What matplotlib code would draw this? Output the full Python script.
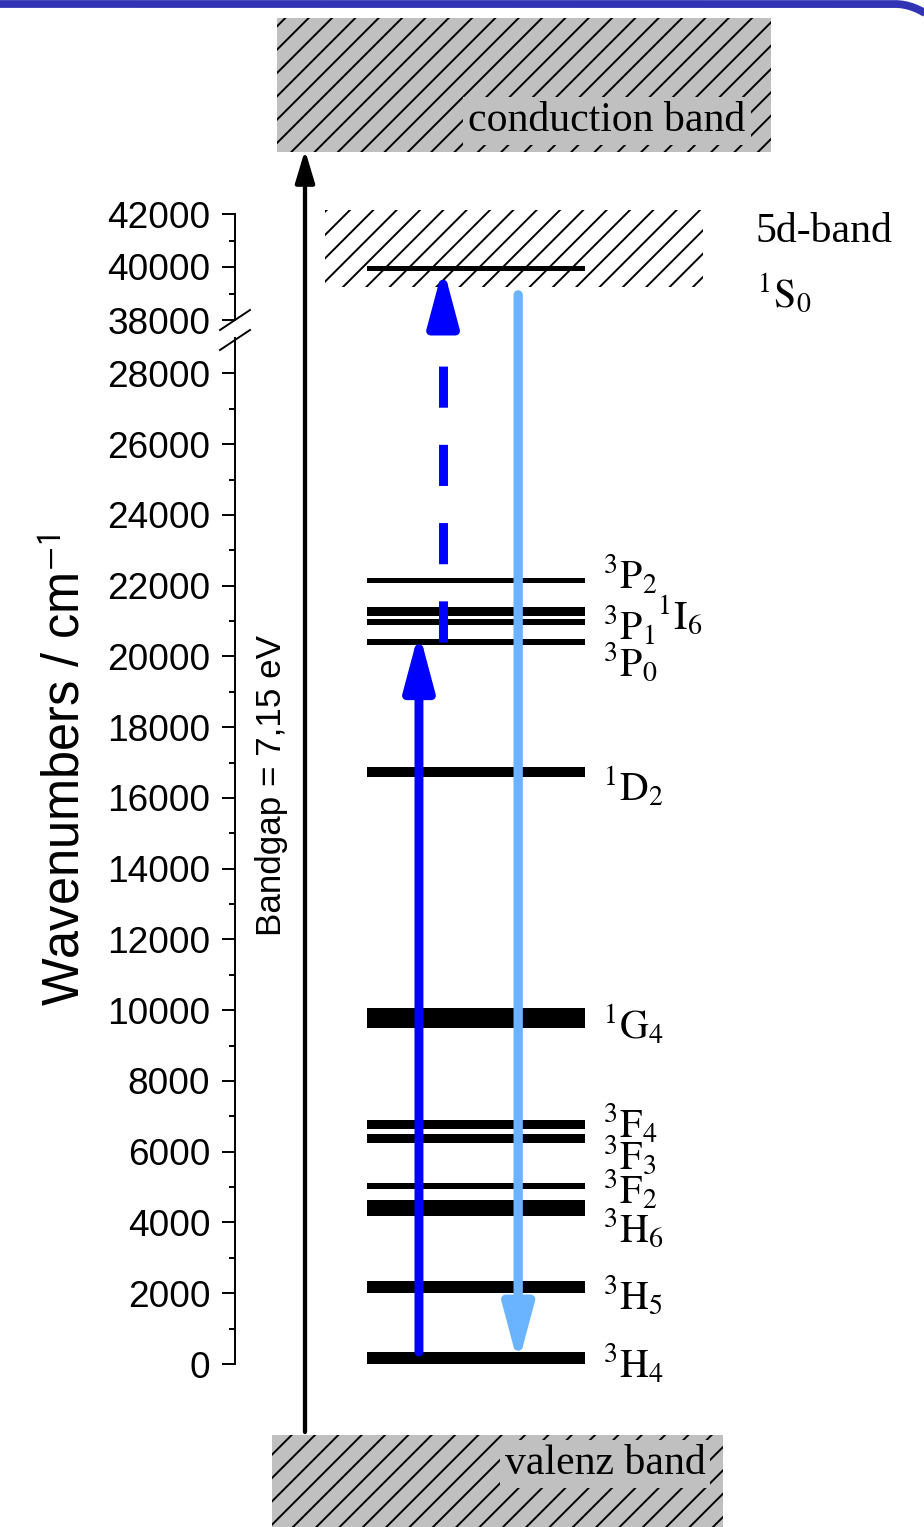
import numpy as np
import matplotlib
matplotlib.use("Agg")
import matplotlib.pyplot as plt
from matplotlib.patches import Rectangle, ConnectionPatch, FancyArrowPatch
from matplotlib.lines import Line2D

plt.rcParams['font.family'] = ['Liberation Sans', 'DejaVu Sans']
plt.rcParams['mathtext.fontset'] = 'stix'
plt.rcParams['hatch.linewidth'] = 1.0

# Energieniveaus (cm^-1), Mitte und Breite der Balken
term_labels = [r'$^{3}\mathrm{H}_{4}$', r'$^{3}\mathrm{H}_{5}$', r'$^{3}\mathrm{H}_{6}$',
               r'$^{3}\mathrm{F}_{2}$', r'$^{3}\mathrm{F}_{3}$', r'$^{3}\mathrm{F}_{4}$',
               r'$^{1}\mathrm{G}_{4}$', r'$^{1}\mathrm{D}_{2}$', r'$^{3}\mathrm{P}_{0}$',
               r'$^{3}\mathrm{P}_{1}$', r'$^{1}\mathrm{I}_{6}$', r'$^{3}\mathrm{P}_{2}$']
energies = [155, 2176, 4409, 5031, 6374, 6783, 9779, 16733, 20407, 20972, 21269, 22145]
spreads = [367, 340, 450, 170, 255, 255, 565, 283, 170, 170, 255, 140]
# Lage der Beschriftungen (auseinandergezogen)
label_y = [0, 1950, 3844, 4918, 5907, 6783, 9582, 16309, 19842, 20859, 21150, 22301]

s0_label = r'$^{1}\mathrm{S}_{0}$'
s0_energy = 39943
s0_spread = 190
band_5d = [39245, 42150]

# Uebergaenge
exc_start = energies[0] + spreads[0] / 2
exc_end = 20700
esa_dash_end = 28236
esa_head_start = 29300
esa_end = 40000
emi_start = 38950
emi_end = 0

lower_ticks = list(range(0, 28001, 2000))
upper_ticks = [38000, 40000, 42000]

W, H = 924, 1527
DPI = 140
fig = plt.figure(figsize=(W / DPI, H / DPI), dpi=DPI)


def fx(px):
    return px / W


def fy(py):
    return (H - py) / H


ax_lo = fig.add_axes([fx(235), fy(1364), 689 / W, 1026 / H])
ax_hi = fig.add_axes([fx(235), fy(320), 689 / W, 106 / H])
for ax in (ax_lo, ax_hi):
    ax.set_facecolor('none')
    for s in ('top', 'right', 'bottom'):
        ax.spines[s].set_visible(False)
    ax.spines['left'].set_linewidth(1.0)
    ax.set_xlim(0, 1)
    ax.set_xticks([])
    ax.tick_params(axis='y', which='major', length=6.7, width=1.0, labelsize=19, pad=6)
    ax.tick_params(axis='y', which='minor', length=3.1, width=1.0)

ax_lo.set_ylim(0, 29000)
ax_lo.set_yticks(lower_ticks)
ax_lo.set_yticks(range(1000, 28000, 2000), minor=True)
ax_hi.set_ylim(38000, 42000)
ax_hi.set_yticks(upper_ticks)
ax_hi.set_yticks([39000, 41000], minor=True)

lev_x0, lev_x1 = 0.1916, 0.508
lab_x = [0.534] * len(term_labels)
lab_x[10] = 0.612

# Niveaus
ax_lo.barh(energies, lev_x1 - lev_x0, height=spreads, left=lev_x0, color='black', zorder=2)
for lab, ly, lx in zip(term_labels, label_y, lab_x):
    ax_lo.text(lx, ly, lab, fontsize=20.5, va='center', ha='left', clip_on=False)

# 5d-Band und 1S0
ax_hi.add_patch(Rectangle((0.1306, band_5d[0]), 0.679 - 0.1306, band_5d[1] - band_5d[0],
                          fill=False, hatch='//', edgecolor='black', lw=0, clip_on=False))
ax_hi.barh([s0_energy], lev_x1 - lev_x0, height=s0_spread, left=lev_x0, color='black',
           zorder=2, clip_on=False)
ax_hi.text(0.755, 41321, '5d-band', fontsize=21.5, family='Liberation Serif',
           va='center', ha='left', clip_on=False)
ax_hi.text(0.757, 39019, s0_label, fontsize=20.5, va='center', ha='left', clip_on=False)

# Anregung (dunkelblau)
dark = '#0000ff'
light = '#6ab4ff'
head = '-|>,head_length=2.4,head_width=0.64'
ax_lo.annotate('', xy=(0.267, exc_end), xytext=(0.267, exc_start),
               arrowprops=dict(arrowstyle=head, lw=4.6, color=dark, shrinkA=0, shrinkB=0),
               annotation_clip=False, zorder=5)

# ESA gestrichelt
ax_lo.plot([0.302, 0.302], [energies[8], esa_dash_end], color=dark, lw=4.6,
           linestyle=(0, (4.6, 4.15)), solid_capstyle='butt', zorder=5)
con = ConnectionPatch(xyA=(0.302, esa_head_start), coordsA=ax_lo.transData,
                      xyB=(0.302, esa_end), coordsB=ax_hi.transData,
                      arrowstyle=head, lw=4.6, color=dark, shrinkA=0, shrinkB=0)
fig.add_artist(con)

# Emission (hellblau)
con = ConnectionPatch(xyA=(0.411, emi_start), coordsA=ax_hi.transData,
                      xyB=(0.411, emi_end), coordsB=ax_lo.transData,
                      arrowstyle=head, lw=4.8, color=light, shrinkA=0, shrinkB=0)
fig.add_artist(con)

# Leitungsband / Valenzband
cb = Rectangle((fx(277), fy(152)), (771 - 277) / W, 134 / H, transform=fig.transFigure,
               facecolor='#c0c0c0', hatch='//', edgecolor='black', lw=0)
fig.add_artist(cb)
fig.text(fx(607), fy(121), 'conduction band', fontsize=21.5, family='Liberation Serif',
         ha='center', va='center',
         bbox=dict(boxstyle='square,pad=0.12', facecolor='#c0c0c0', edgecolor='none'))
vb = Rectangle((fx(272), 0), (723 - 272) / W, fy(1435), transform=fig.transFigure,
               facecolor='#c0c0c0', hatch='//', edgecolor='black', lw=0)
fig.add_artist(vb)
fig.text(fx(605), fy(1464), 'valenz band', fontsize=21.5, family='Liberation Serif',
         ha='center', va='center',
         bbox=dict(boxstyle='square,pad=0.12', facecolor='#c0c0c0', edgecolor='none'))

# Bandluecke
gap = FancyArrowPatch((fx(305), fy(1432)), (fx(305), fy(150)), transform=fig.transFigure,
                      arrowstyle='-|>,head_length=1.4,head_width=0.42',
                      lw=2.2, color='black', shrinkA=0, shrinkB=0, mutation_scale=10)
fig.add_artist(gap)
fig.text(fx(271), fy(785), 'Bandgap = 7,15 eV', fontsize=18, rotation=90,
         ha='center', va='center')

fig.text(fx(66), fy(770), r'Wavenumbers / cm$^{\mathsf{-1}}$', fontsize=26, rotation=90,
         ha='center', va='center')

# Achsenbruch
for y0 in (330, 350):
    fig.add_artist(Line2D([fx(220), fx(250)], [fy(y0), fy(y0 - 20)], color='black', lw=1.0))

# blauer Folienrand oben
bx = np.linspace(0, 930, 200)
by = 4 + np.clip(bx - 895, 0, None) ** 2 / 99.0
fig.add_artist(Line2D(bx / W, (H - by) / H, color='#3232b4', lw=4.0, solid_capstyle='butt'))

fig.savefig('out.png', dpi=DPI)
